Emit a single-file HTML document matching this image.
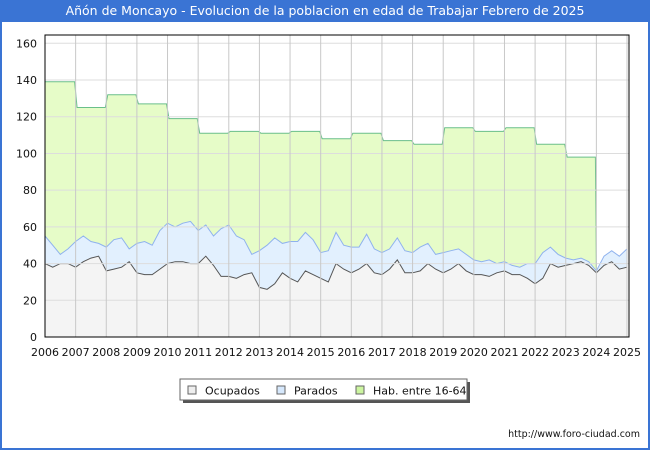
<!DOCTYPE html>
<html><head><meta charset="utf-8"><style>
body{margin:0;background:#fff;font-family:"DejaVu Sans","Liberation Sans",sans-serif;}
#wrap{position:relative;width:646px;height:448px;border:2px solid #3a74d4;border-top:none;background:#fff;}
#title{position:absolute;left:0;top:0;width:646px;height:22px;background:#3a74d4;color:#fff;font-size:12.5px;text-align:center;line-height:22px;}
svg{position:absolute;left:-2px;top:0;font-family:"DejaVu Sans","Liberation Sans",sans-serif;}
</style></head><body>
<div id="wrap">
<div id="title">Añón de Moncayo - Evolucion de la poblacion en edad de Trabajar Febrero de 2025</div>
<svg id="chart" width="650" height="450"></svg>
</div>
<script>
const years=[2006,2007,2008,2009,2010,2011,2012,2013,2014,2015,2016,2017,2018,2019,2020,2021,2022,2023,2024,2025];
const yTicks=[0,20,40,60,80,100,120,140,160];
const habValues=[139,125,132,127,119,111,112,111,112,108,111,107,105,114,112,114,105,98];
const totalValues=[55,50,45,48,52,55,52,51,49,53,54,48,51,52,50,58,62,60,62,63,58,61,55,59,61,55,53,45,47,50,54,51,52,52,57,53,46,47,57,50,49,49,56,48,46,48,54,47,46,49,51,45,46,47,48,45,42,41,42,40,41,39,38,40,40,46,49,45,43,42,43,41,36,44,47,44,48];
const ocupadosValues=[40,38,40,40,38,41,43,44,36,37,38,41,35,34,34,37,40,41,41,40,40,44,39,33,33,32,34,35,27,26,29,35,32,30,36,34,32,30,40,37,35,37,40,35,34,37,42,35,35,36,40,37,35,37,40,36,34,34,33,35,36,34,34,32,29,32,40,38,39,40,41,39,35,39,41,37,38];
const NS="http://www.w3.org/2000/svg";
const svg=document.getElementById('chart');
const L=45,R=629,T=35,B=337;
const x=v=>L+(v-2006)*(R-2-L)/19;
const y=v=>B-v*(B-43.3)/160;
function mk(tag,attrs){const e=document.createElementNS(NS,tag);for(const k in attrs)e.setAttribute(k,attrs[k]);svg.appendChild(e);return e;}
mk('rect',{x:L,y:T,width:R-L,height:B-T,fill:'#fff'});
let hp=[];habValues.forEach((v,i)=>{hp.push([x(years[i])+(i?1.5:0),y(v)]);hp.push([x(years[i]+1)-1,y(v)]);});
const tq=i=>2006+i*0.25;
const endTot=y(totalValues[72]);
hp.push([x(2024),endTot]);
let d='M'+x(2006)+','+B+' '+hp.map(p=>'L'+p[0].toFixed(1)+','+p[1].toFixed(1)).join(' ')+' L'+x(2024)+','+B+'Z';
let e=mk('path',{d:d,fill:'#e6fcc8',stroke:'none'});


e=mk('path',{d:'M'+hp.map(p=>p[0].toFixed(1)+','+p[1].toFixed(1)).join(' L'),fill:'none',stroke:'#6abf8a','stroke-width':1});


const tp=totalValues.map((v,i)=>[x(tq(i)),y(v)]);
e=mk('path',{d:'M'+L+','+B+' '+tp.map(p=>'L'+p[0].toFixed(1)+','+p[1].toFixed(1)).join(' ')+' L'+x(tq(76))+','+B+'Z',fill:'#e2f0fe'});


e=mk('path',{d:'M'+tp.map(p=>p[0].toFixed(1)+','+p[1].toFixed(1)).join(' L'),fill:'none',stroke:'#8fb2ee','stroke-width':1});


const op=ocupadosValues.map((v,i)=>[x(tq(i)),y(v)]);
e=mk('path',{d:'M'+L+','+B+' '+op.map(p=>'L'+p[0].toFixed(1)+','+p[1].toFixed(1)).join(' ')+' L'+x(tq(76))+','+B+'Z',fill:'#f4f4f4'});


e=mk('path',{d:'M'+op.map(p=>p[0].toFixed(1)+','+p[1].toFixed(1)).join(' L'),fill:'none',stroke:'#555','stroke-width':1});


yTicks.forEach(t=>{
 if(t>0){e=mk('line',{x1:L,x2:R,y1:y(t),y2:y(t),stroke:'#ddd','stroke-width':1});
 }
 e=mk('text',{x:37,y:y(t)+4,'text-anchor':'end','font-size':11,fill:'#111'});e.textContent=t;
 
 
});
years.forEach(yr=>{
 if(yr>2006){e=mk('line',{x1:x(yr),x2:x(yr),y1:T,y2:B,stroke:'#c8c8c8','stroke-width':1});
 }
 e=mk('text',{x:x(yr),y:356,'text-anchor':'middle','font-size':11,fill:'#111'});e.textContent=yr;
 
 
});
e=mk('rect',{x:L,y:T,width:R-L,height:B-T,fill:'none',stroke:'#000','stroke-width':1});


mk('rect',{x:183,y:382,width:287,height:21,fill:'#555'});
e=mk('rect',{x:180,y:379,width:287,height:21,fill:'#fff',stroke:'#666'});


[['Ocupados','#eee',188],['Parados','#d6e8fc',277],['Hab. entre 16-64','#ccf5a0',356]].forEach(l=>{
 e=mk('rect',{x:l[2],y:386,width:8,height:8,fill:l[1],stroke:'#666'});
 
 
 e=mk('text',{x:l[2]+17,y:394.5,'font-size':11,fill:'#111'});e.textContent=l[0];
 
 
});
e=mk('text',{x:640,y:437,'text-anchor':'end','font-size':9.5,fill:'#111'});e.textContent='http://www.foro-ciudad.com';


</script>
</body></html>
